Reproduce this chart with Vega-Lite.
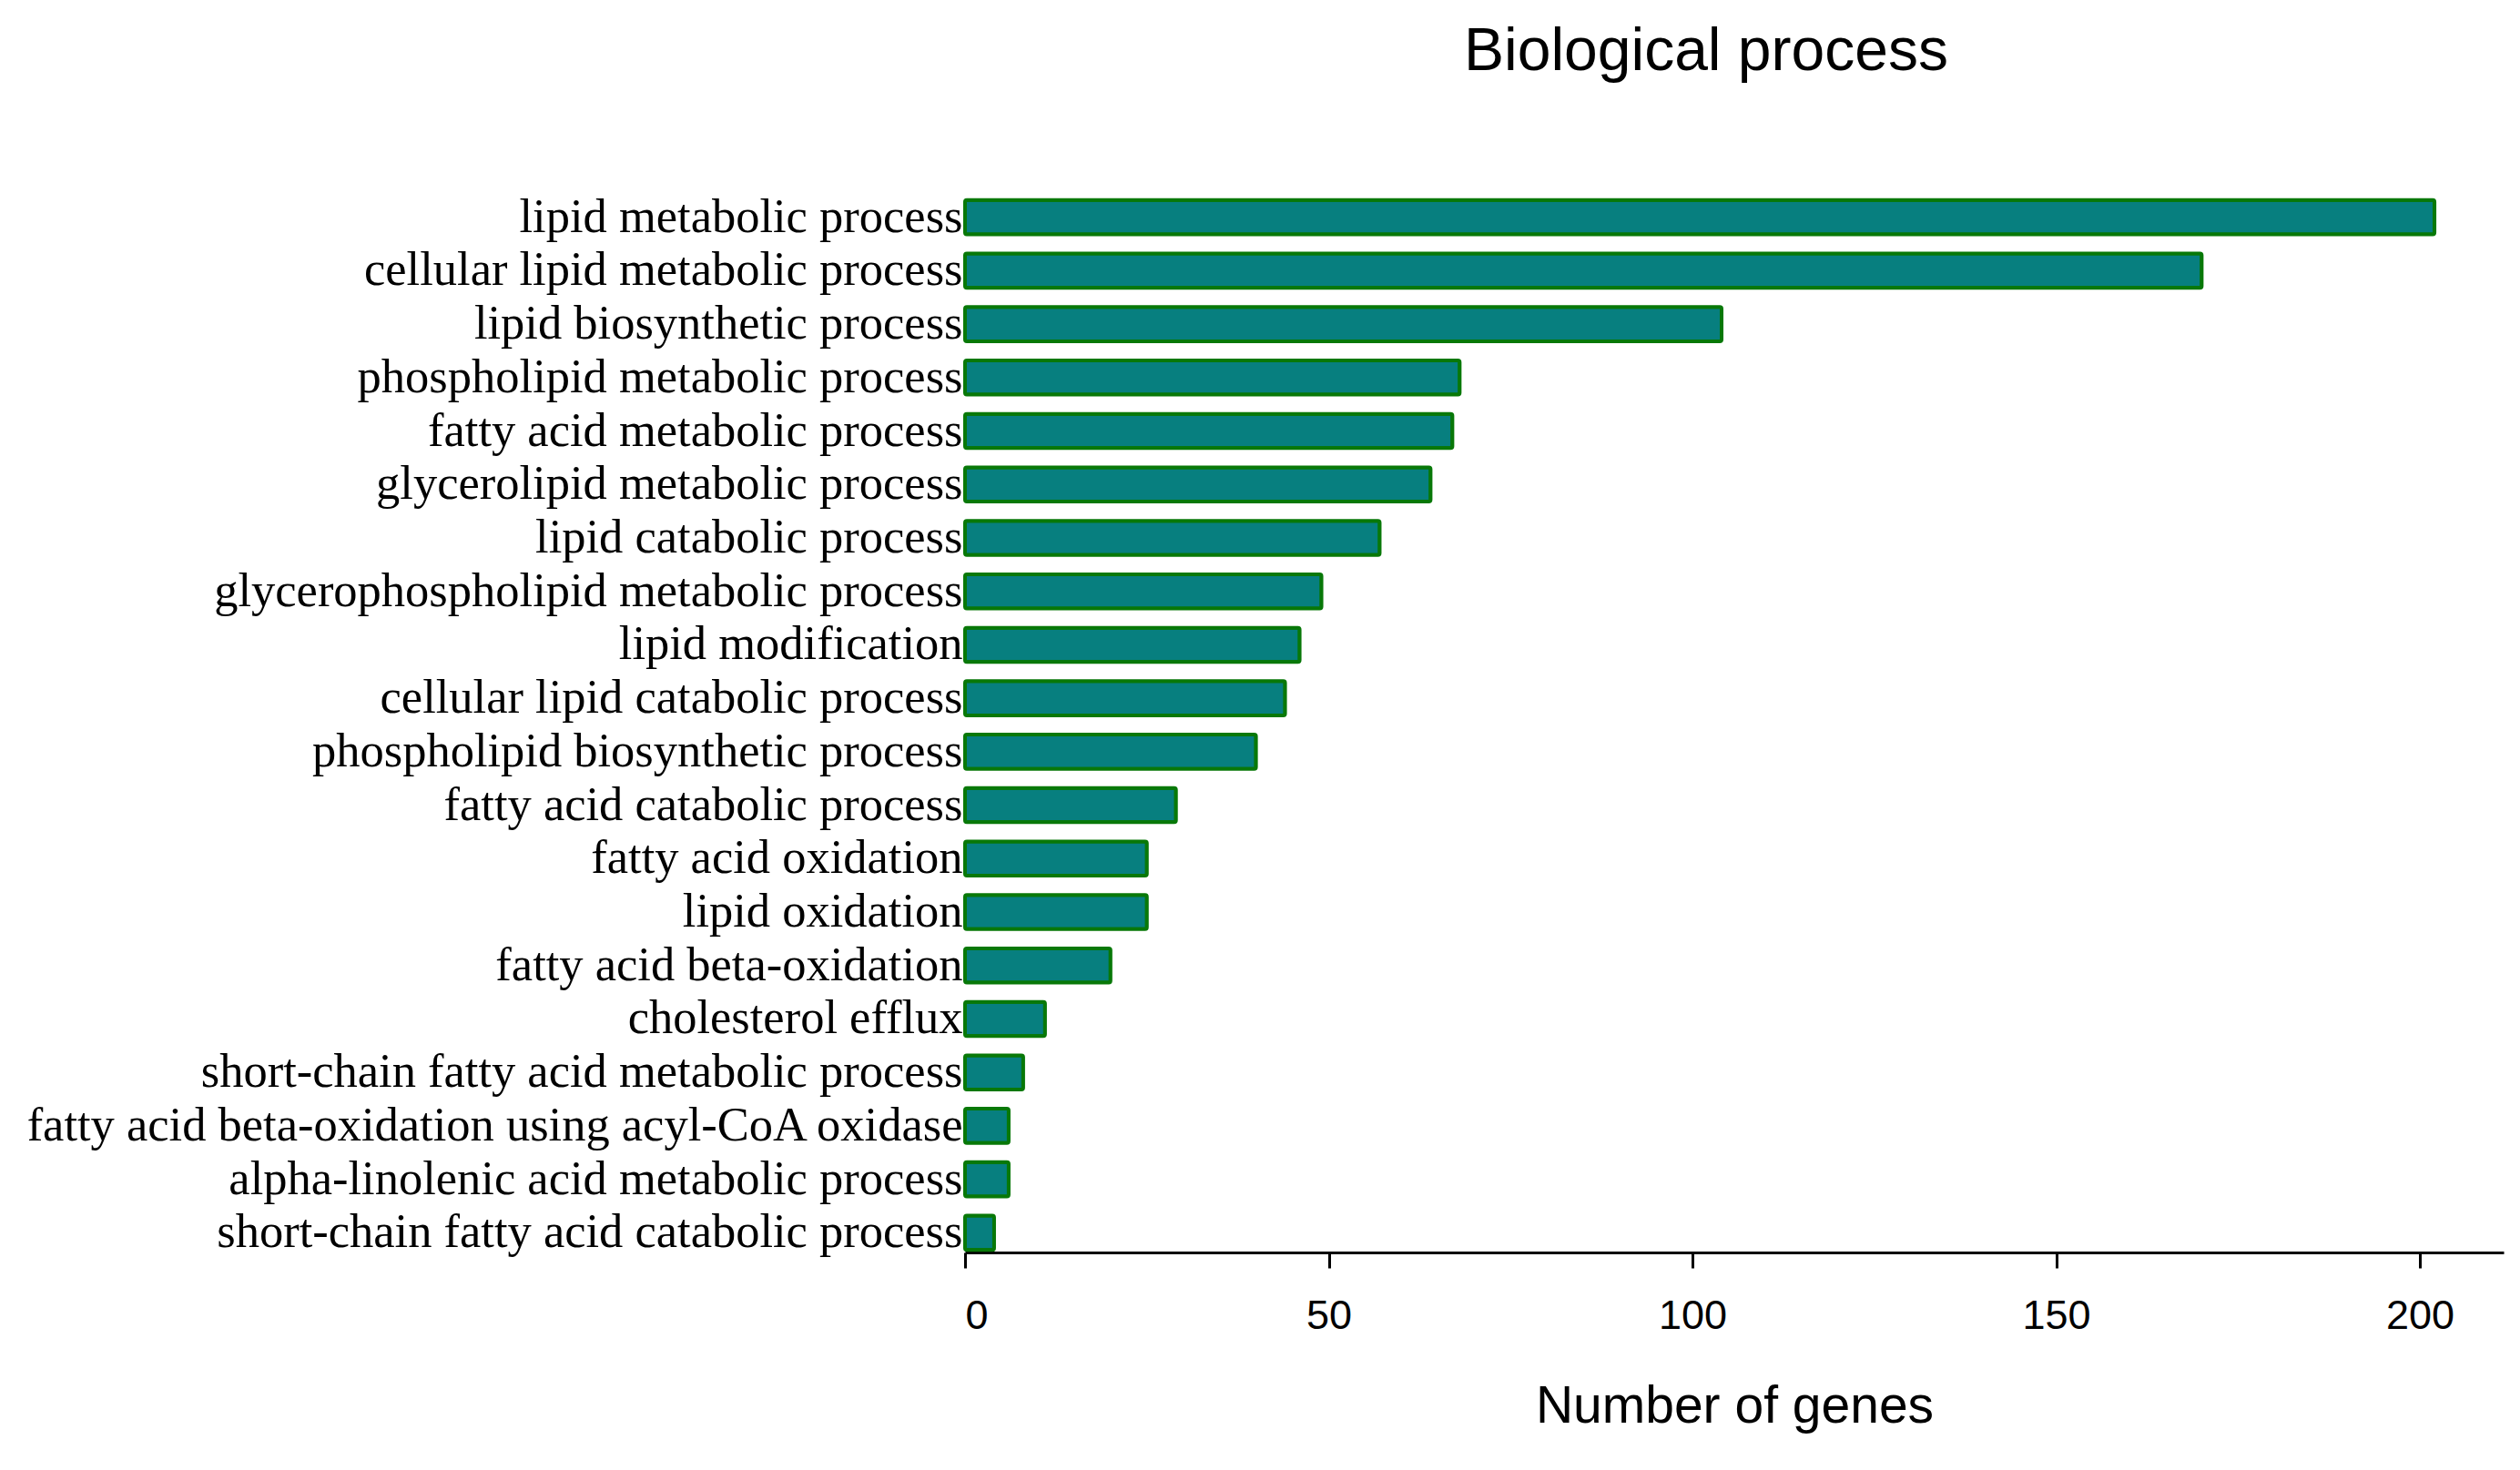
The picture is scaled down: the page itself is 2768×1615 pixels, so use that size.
{
  "$schema": "https://vega.github.io/schema/vega-lite/v6.json",
  "autosize": {"type": "none"},
  "padding": {"left": 1060, "top": 214, "right": 18, "bottom": 236},
  "width": 1690,
  "height": 1165,
  "background": "white",
  "title": {
    "text": "Biological process",
    "font": "Liberation Sans",
    "fontSize": 66,
    "fontWeight": "normal",
    "color": "black",
    "anchor": "middle",
    "dx": -31,
    "offset": 121
  },
  "data": {
    "values": [
      {"process": "lipid metabolic process", "genes": 202},
      {"process": "cellular lipid metabolic process", "genes": 170},
      {"process": "lipid biosynthetic process", "genes": 104},
      {"process": "phospholipid metabolic process", "genes": 68},
      {"process": "fatty acid metabolic process", "genes": 67},
      {"process": "glycerolipid metabolic process", "genes": 64},
      {"process": "lipid catabolic process", "genes": 57},
      {"process": "glycerophospholipid metabolic process", "genes": 49},
      {"process": "lipid modification", "genes": 46},
      {"process": "cellular lipid catabolic process", "genes": 44},
      {"process": "phospholipid biosynthetic process", "genes": 40},
      {"process": "fatty acid catabolic process", "genes": 29},
      {"process": "fatty acid oxidation", "genes": 25},
      {"process": "lipid oxidation", "genes": 25},
      {"process": "fatty acid beta-oxidation", "genes": 20},
      {"process": "cholesterol efflux", "genes": 11},
      {"process": "short-chain fatty acid metabolic process", "genes": 8},
      {"process": "fatty acid beta-oxidation using acyl-CoA oxidase", "genes": 6},
      {"process": "alpha-linolenic acid metabolic process", "genes": 6},
      {"process": "short-chain fatty acid catabolic process", "genes": 4}
    ]
  },
  "mark": {
    "type": "bar",
    "color": "#077F7F",
    "stroke": "#087808",
    "strokeWidth": 4,
    "cornerRadius": 2
  },
  "encoding": {
    "y": {
      "field": "process",
      "type": "nominal",
      "sort": null,
      "scale": {"paddingInner": 0.36, "paddingOuter": 0.1},
      "axis": {
        "title": null,
        "domain": false,
        "ticks": false,
        "grid": false,
        "labelFont": "Liberation Serif",
        "labelFontSize": 52.5,
        "labelColor": "black",
        "labelPadding": 3,
        "labelLimit": 0
      }
    },
    "x": {
      "field": "genes",
      "type": "quantitative",
      "scale": {"domain": [0, 211.5], "nice": false},
      "axis": {
        "title": "Number of genes",
        "titleFont": "Liberation Sans",
        "titleFontSize": 57,
        "titleFontWeight": "normal",
        "titleColor": "black",
        "titlePadding": 49,
        "values": [0, 50, 100, 150, 200],
        "grid": false,
        "domainColor": "black",
        "domainWidth": 3,
        "tickColor": "black",
        "tickWidth": 3,
        "tickSize": 17,
        "offset": -3,
        "labelFont": "Liberation Sans",
        "labelFontSize": 45,
        "labelColor": "black",
        "labelPadding": 30
      }
    }
  },
  "config": {"view": {"stroke": null}}
}
